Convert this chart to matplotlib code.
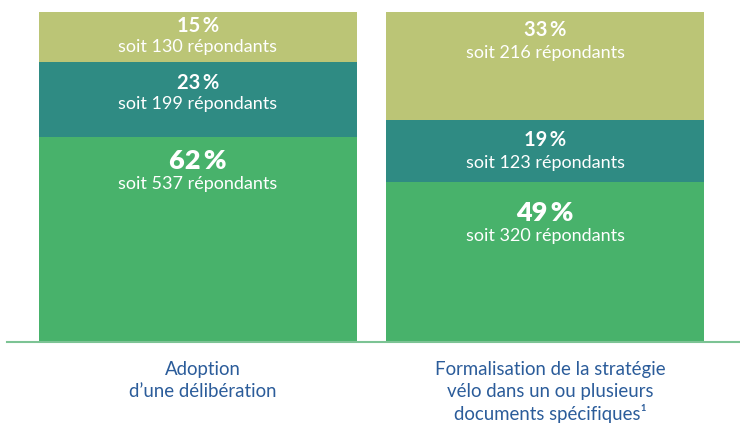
import matplotlib
matplotlib.use("Agg")
import matplotlib.pyplot as plt
import numpy as np

# ---- data ----
categories = ["Adoption\nd’une délibération",
              "Formalisation de la stratégie\nvélo dans un ou plusieurs\ndocuments spécifiques¹"]
segment_names = ["bas", "milieu", "haut"]
percents = [[62, 23, 15],   # Adoption: bottom, middle, top
            [49, 19, 33]]   # Formalisation
counts = [[537, 199, 130],
          [320, 123, 216]]

# ---- style ----
colors = ["#48B26B", "#2F8B83", "#BBC576"]
label_blue = "#2B5C9A"
line_green = "#7CC394"
font = ["Lato", "DejaVu Sans"]
# label offsets below each segment top (pixels): pct, subtitle
pct_off = [[24, 21, 14], [31, 20, 18]]
sub_off = [[47, 42, 35], [54, 43, 41]]
pct_size = [19.5, 14.5, 14.5]
pct_weight = ["heavy", "bold", "bold"]

W, H = 740, 424
fig = plt.figure(figsize=(W / 100, H / 100), dpi=100)
top_px, base_px = 12, 342
left_px = 7
ax = fig.add_axes([left_px / W, (H - base_px) / H, (W - left_px) / W, (base_px - top_px) / H])

c0, c1 = 198, 545
unit = c1 - c0
bar_w = 318 / unit
ax.set_xlim(-(c0 - left_px) / unit, 1 + (W - c1) / unit)
ax.set_ylim(0, 1)

x = np.arange(len(categories))
for i in range(len(categories)):
    tot = sum(counts[i])
    bottom = 0.0
    for j in range(3):
        h = counts[i][j] / tot
        ax.bar(x[i], h, bottom=bottom, width=bar_w, color=colors[j], edgecolor="none")
        seg_top = bottom + h
        ax.annotate(f"{percents[i][j]}\u2009%", xy=(x[i], seg_top), xytext=(0, -pct_off[i][j] * 0.72),
                    textcoords="offset points", ha="center", va="center", color="white",
                    fontsize=pct_size[j], fontweight=pct_weight[j], family=font)
        ax.annotate(f"soit {counts[i][j]} répondants", xy=(x[i], seg_top),
                    xytext=(0, -sub_off[i][j] * 0.72), textcoords="offset points",
                    ha="center", va="center", color="white", fontsize=13, family=font)
        bottom = seg_top

for s in ["top", "right", "left"]:
    ax.spines[s].set_visible(False)
ax.spines["bottom"].set_color(line_green)
ax.spines["bottom"].set_linewidth(1.5)
ax.set_yticks([])
ax.set_xticks(x + 0.015)
ax.set_xticklabels(categories, fontsize=13.4, color=label_blue, family=font, linespacing=1.3,
                   va="top")
ax.tick_params(axis="x", length=0, pad=14)

fig.savefig("out.png", dpi=100)
